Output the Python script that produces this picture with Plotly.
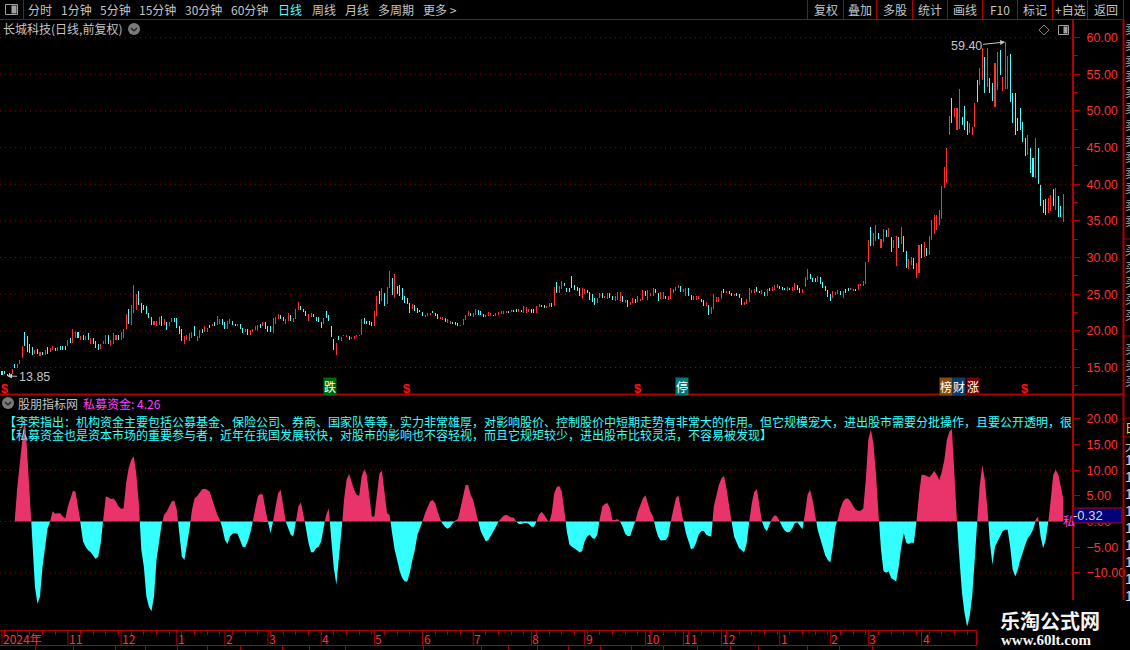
import plotly.graph_objects as go

# ---------- data ----------
price_high = [
14.5,14.5,14.1,14.2,14.77,15.45,15.45,16.0,17.9,19.9,
19.25,18.25,17.8,17.45,17.5,17.05,17.1,17.45,17.8,17.6,
17.9,17.6,17.75,18.0,17.95,17.9,18.8,19.05,20.3,19.8,
19.8,19.3,19.5,19.3,19.65,19.0,19.0,18.55,18.25,18.25,
18.6,19.5,19.5,18.8,19.7,19.5,19.4,19.8,20.25,22.3,
23.05,23.55,26.25,25.0,25.45,23.85,23.55,23.4,22.4,21.85,
21.3,21.4,21.95,22.05,21.55,21.25,21.25,21.7,21.75,21.7,
20.6,20.2,19.25,19.5,19.7,19.9,20.6,19.25,20.05,20.2,
20.6,20.45,20.85,21.0,21.15,22.05,21.55,21.65,21.15,21.4,
21.65,21.4,21.0,21.0,21.0,20.45,20.2,20.3,20.05,20.3,
20.6,20.85,21.0,21.15,21.15,20.6,20.6,21.8,21.95,22.35,
22.2,21.95,21.55,22.5,22.2,21.8,23.0,23.95,23.4,23.0,
22.75,22.35,22.5,22.35,21.95,21.95,21.25,21.8,22.75,22.2,
20.6,18.95,18.4,19.35,19.1,19.5,19.5,19.35,19.1,19.35,
19.5,19.5,21.65,21.8,21.4,21.4,21.25,22.75,24.75,25.45,
25.9,25.2,26.05,28.15,27.25,27.7,26.15,26.25,25.9,24.75,
24.55,23.85,23.65,23.5,23.1,22.9,22.6,22.2,22.5,22.5,
22.75,22.5,22.3,21.95,21.85,21.7,21.55,21.4,21.25,21.25,
21.05,20.85,21.6,22.15,22.75,22.5,22.5,23.0,22.85,22.65,
22.3,22.2,22.6,22.5,22.2,22.5,22.6,22.75,22.75,22.75,
22.75,22.85,22.9,22.95,23.0,22.9,23.4,23.3,23.05,23.0,
23.05,23.4,23.6,23.55,23.55,23.4,23.8,23.75,26.0,26.65,
26.15,26.8,26.5,25.8,25.8,27.45,26.25,26.0,25.9,25.8,
25.75,25.55,25.3,25.0,24.55,24.55,25.2,25.1,24.75,25.1,
25.15,24.7,24.7,25.3,25.3,24.7,24.2,24.2,24.0,24.55,
24.4,24.8,24.3,25.6,25.45,25.6,25.2,25.9,25.7,25.2,
25.25,25.25,24.75,24.7,25.9,25.75,26.05,26.25,26.15,25.65,
25.8,25.9,24.85,24.7,24.7,24.75,24.3,24.2,24.0,23.55,
23.2,25.0,24.65,24.65,25.45,25.7,25.45,25.45,25.2,25.0,
25.2,25.0,24.55,24.0,24.4,25.8,25.55,25.75,26.0,25.45,
25.55,25.3,25.7,25.9,26.0,26.25,26.35,26.15,26.0,25.9,
26.0,25.8,26.0,26.55,26.25,25.9,25.7,27.35,28.45,27.7,
27.25,27.25,27.5,27.35,26.6,26.15,25.55,25.0,25.45,25.25,
25.6,25.45,25.45,25.7,25.8,25.8,25.75,25.75,26.35,26.45,
26.8,29.4,32.45,34.15,33.3,34.4,33.35,32.6,33.9,33.8,
34.05,32.8,32.45,32.9,32.8,34.15,32.9,30.9,29.75,30.05,
30.0,29.25,31.7,31.9,32.1,31.25,32.9,35.1,35.75,35.85,
36.45,39.7,42.4,44.95,49.35,51.8,50.45,50.45,52.95,49.2,
50.7,48.6,48.3,47.85,51.15,54.2,55.85,58.6,57.35,58.6,
54.5,53.75,56.55,58.1,58.35,54.65,59.4,57.45,57.8,52.5,
52.5,49.0,50.45,48.45,46.25,46.7,44.9,43.55,46.35,45.0,
39.95,37.9,38.0,38.1,38.6,39.4,39.5,38.35,37.1,38.7,
]
price_low = [
14.0,14.05,13.85,13.95,14.05,14.9,14.9,15.45,16.35,17.9,
17.05,17.0,16.65,16.8,16.9,16.55,16.65,16.65,16.9,17.05,
17.35,17.2,17.2,17.45,17.45,17.35,17.9,18.35,18.4,19.05,
19.05,18.7,18.8,18.8,18.7,18.25,18.15,17.6,17.35,17.55,
18.25,18.25,18.25,18.0,18.15,18.8,18.8,18.8,19.05,20.25,
20.95,20.85,22.45,22.85,23.55,22.5,22.85,22.3,21.7,20.8,
20.8,20.7,20.85,20.7,20.8,20.05,20.6,21.15,21.15,20.4,
19.6,18.55,18.15,18.8,18.55,19.05,19.25,18.55,19.05,19.75,
19.8,19.85,20.45,20.6,20.6,20.85,20.95,20.85,20.2,20.2,
20.95,20.85,20.7,20.7,20.3,19.65,19.8,19.5,19.5,19.8,
20.05,20.0,20.45,20.6,20.3,19.8,19.8,19.65,21.0,21.65,
21.65,21.4,21.0,21.4,21.4,21.25,21.65,22.9,22.9,22.6,
22.05,21.4,21.95,21.95,21.4,21.25,20.45,21.0,21.8,21.4,
19.1,17.35,16.65,18.7,18.55,19.25,19.1,18.7,18.85,18.95,
19.1,19.25,19.5,21.0,21.0,20.85,20.7,20.7,22.05,23.7,
24.1,23.4,23.65,25.9,24.9,24.55,25.0,24.75,24.2,23.85,
23.65,22.5,22.95,22.75,22.5,22.6,22.05,21.85,22.05,22.2,
22.4,22.05,21.6,21.55,21.5,21.15,21.05,20.95,20.95,20.75,
20.7,20.6,20.85,21.5,22.05,22.05,21.95,22.2,22.2,22.2,
21.95,21.85,22.05,22.0,22.0,22.05,22.2,22.3,22.3,22.45,
22.5,22.55,22.6,22.6,22.55,22.6,22.5,22.5,22.6,22.5,
22.45,22.45,23.2,23.3,23.1,23.15,23.3,23.3,23.4,25.2,
25.2,25.7,26.15,25.35,25.35,25.9,25.55,25.45,24.75,24.4,
25.0,25.2,24.2,24.0,23.55,23.85,24.55,24.45,24.45,24.3,
24.55,24.2,24.1,24.2,24.1,24.0,23.85,23.2,23.55,23.85,
23.85,24.0,24.1,24.25,24.75,24.25,24.75,24.7,25.2,24.1,
24.3,24.3,24.3,24.2,24.35,25.2,25.45,25.8,25.35,25.35,
24.75,24.75,24.25,24.25,24.25,24.3,24.0,23.4,23.4,22.1,
22.3,23.0,24.0,24.0,24.3,25.2,25.1,25.0,24.7,24.7,
24.7,24.45,23.5,23.55,23.65,24.0,25.15,25.2,25.35,25.1,
25.0,24.75,24.7,25.45,25.45,25.55,25.8,25.7,25.55,25.55,
25.45,25.55,25.45,25.55,25.55,25.1,25.1,26.0,26.9,27.05,
26.7,26.7,26.65,26.35,25.8,25.45,24.65,24.1,24.55,24.9,
25.0,24.9,24.55,25.2,25.45,25.55,25.45,25.45,25.6,26.1,
26.15,26.45,29.35,31.55,31.55,32.25,32.6,31.25,32.15,32.85,
32.8,30.8,31.35,28.85,31.25,31.9,30.8,28.55,28.5,29.0,
28.4,27.15,27.95,30.0,30.05,30.2,30.35,32.45,33.15,33.8,
34.5,35.25,39.5,40.15,46.7,48.3,49.2,47.4,47.6,48.05,
47.4,46.7,46.95,46.7,47.85,51.25,53.6,54.2,52.45,53.3,
52.4,51.35,50.55,52.85,54.85,52.7,52.95,52.95,51.25,48.3,
46.7,47.2,47.4,45.8,43.8,44.0,41.5,41.05,40.85,40.0,
37.0,36.1,35.75,36.1,36.4,37.0,36.55,35.55,35.5,34.85,
]
# 1 = up day (red), 0 = down day (cyan)
price_up = [
0,0,0,0,1,0,1,1,1,0,
0,0,0,1,0,1,0,1,0,1,
1,0,1,0,0,0,1,0,1,1,
0,1,0,1,0,1,0,0,0,1,
1,1,0,1,1,1,0,1,1,1,
0,1,1,1,0,0,0,0,0,0,
1,1,1,0,1,0,1,1,0,0,
0,0,1,1,1,1,0,1,1,0,
1,1,0,1,0,1,1,0,0,1,
1,0,0,1,0,0,1,0,1,1,
1,1,0,1,0,0,0,1,1,1,
0,0,1,1,0,1,1,1,0,0,
0,1,1,0,0,0,0,1,0,0,
0,0,1,0,1,1,1,0,1,1,
1,1,1,0,0,0,0,1,1,0,
1,0,1,1,0,1,0,0,0,0,
0,0,1,0,0,0,0,1,1,1,
0,0,0,1,1,0,1,1,0,0,
0,1,1,1,1,0,1,1,0,0,
0,1,1,1,0,1,1,1,1,1,
0,1,0,0,1,0,1,1,1,0,
0,1,1,0,0,1,1,0,1,0,
1,1,0,0,0,0,0,0,0,1,
1,0,0,0,0,1,1,0,1,1,
0,0,1,1,1,0,1,0,1,1,
0,1,1,1,0,1,1,1,0,0,
1,1,0,1,1,1,1,1,0,1,
1,0,0,1,1,1,0,0,1,0,
1,1,1,1,1,0,1,0,0,1,
0,0,0,1,1,1,1,1,0,0,
1,0,1,0,1,1,1,0,0,0,
1,0,1,1,0,0,1,1,1,0,
0,0,1,0,0,0,0,0,1,1,
1,0,1,0,0,1,1,0,1,1,
1,1,1,0,1,1,0,1,1,0,
1,0,1,1,0,1,0,0,1,1,
0,1,1,0,1,0,1,1,1,1,
1,1,1,1,1,0,1,1,1,0,
0,0,1,1,1,0,1,1,0,1,
0,0,1,1,0,1,1,1,0,0,
0,0,0,0,0,1,0,0,1,0,
0,0,0,1,1,0,1,0,0,1,
]

fund_values = [
0,0,0,0,0,0,6.5,11,16,20.5,
13,5,-4,-12.7,-16,-14.6,-8.8,-4.9,-1.3,0,
2.0,1.5,1.6,1.6,1.0,0.6,2.9,4.5,6,5.8,
2.9,-0.5,-3.9,-4.9,-5.6,-6,-6.7,-7.3,-6.8,-4.2,
0.6,4.9,4.7,4.4,4.5,3.9,2.9,2.5,2.6,7.5,
10.4,12,12.7,9.4,3.6,-5.5,-8.8,-14.6,-16.6,-17.5,
-14.6,-7.5,-3.6,-0.6,1.3,1.9,2.9,3.9,4.1,2.3,
-2.3,-6.8,-7.5,-4.9,-1.6,2.3,4.5,4.9,5.5,6.3,
6.4,6.2,5.8,4.2,2.6,1.3,0.3,-1.3,-3.6,-4.4,
-2.9,-2.4,-2.3,-2.4,-3.6,-4.9,-5,-3.9,-2.3,0,
2.6,4.9,5.4,5.2,2.3,-0.1,-2.3,0,2.9,5.5,
6.2,2.9,0,-1.3,-2.6,-2.9,0,2.9,3.7,1.3,
-1.3,-4.2,-6,-6,-5.2,-4.9,-3.9,-1,1.3,2.6,
-3.6,-9.1,-12.3,-7.5,-2.3,4.2,8.1,9.3,7.5,6.2,
5.2,5,8.8,10.2,9.1,4.9,1,1,5.5,9.4,
9.9,5.5,1.6,1.3,-2.3,-5.5,-7.5,-9.7,-11,-11.7,
-11.7,-10,-7.5,-5.5,-2.6,-1.3,0,1.6,2.9,3.9,
4.2,3.6,1.9,0.3,-0.5,-1.1,-1.4,-1,-0.3,0.2,
0.5,2.6,4.9,7.1,7.1,5.2,4.2,2.3,0,-1.9,
-2.9,-3.9,-3.6,-2.6,-1.9,-1,0,0.6,1.1,1.3,
1,0.8,0.8,0,-0.5,-0.5,-0.3,-0.3,-0.5,-1,
-1,0,1.3,1.9,1.3,0.5,-0.2,1.6,5.5,6.7,
6.9,5.8,2.3,-2,-4.5,-4.9,-5.2,-5.6,-6,-5.8,
-3.9,-2.9,-2.6,-3.2,-3.4,-2.6,0.6,2.9,3.4,3.6,
2.6,0.3,0.3,0.5,0,-1,-2.4,-2.8,-2.8,-1.3,
0,1.9,3.2,4.5,5.1,3.6,1.9,1,-1.3,-2.9,
-3.7,-3.7,-3.6,-2.9,0,2.3,4.5,5.1,2.3,0,
-2.3,-3.9,-5.4,-5.2,-4.2,-2.6,-1.9,-1.8,-2.6,-2.8,
-2.9,2.9,5.2,7.1,8.4,8.9,6.5,2.9,0,-2.9,
-4.2,-5.2,-5.6,-6,-4.2,0,3.6,5.8,6.3,2.9,
0,-1.3,-1.9,-0.6,0.6,1.2,1,0,-1,-1.8,
-2.1,-2,-1.3,-0.3,-0.2,-0.8,-1.5,1.6,5.2,6.2,
4.2,1.3,-1.6,-3.2,-5.2,-6.6,-7.5,-8,-4.9,-1,
0.6,2.6,3.9,4.5,4.5,3.9,3,2.3,2.1,2.1,
2.6,8.1,15.9,17.9,15.3,9.4,1.6,-5.5,-9.7,-10,
-9.7,-11,-11.4,-11.7,-8.8,-4.9,-2.3,-4.2,-4.4,-4.1,
-4.2,0,5.2,9.1,9.1,8.8,8.6,9.1,9.9,9.1,
8.1,9.7,12,15.9,17.5,18,10,0,-7.5,-14,
-17.9,-20.5,-18.5,-14.6,-7.5,0.3,7.1,11,8.1,2.6,
-4.2,-8.4,-4.9,-3.9,-2.6,-1.9,-1.6,-1.6,-4.9,-9.4,
-10.7,-9.4,-7.5,-5.8,-4.5,-3.2,-2.6,-1.6,0.3,1,
-2.9,-5.2,-3.6,-0.3,4.2,9.1,10.1,9.1,6.8,4.26,
]

month_labels = ["2024年","11","12","1","2","3","4","5","6","7","8","9","10","11","12","1","2","3","4"]
month_start_bar = [0,26,47,69,88,105,126,147,166,186,209,230,254,269,284,307,327,342,363]
price_ticks = [15,20,25,30,35,40,45,50,55,60]
fund_ticks = [-10,-5,0,5,10,15,20]
fund_grid = [-10,0,10]
signal_bars = [1,160,251,404]
tag_text = ["跌","停","榜","财","涨"]
tag_bar = [129.3,268.6,372.5,377.6,383.5]
menu_left = ["分时","1分钟","5分钟","15分钟","30分钟","60分钟","日线","周线","月线","多周期","更多 >"]
menu_right = ["复权","叠加","多股","统计","画线","F10","标记","+自选","返回"]
line_one = "【李荣指出：机构资金主要包括公募基金、保险公司、券商、国家队等等，实力非常雄厚，对影响股价、控制股价中短期走势有非常大的作用。但它规模宠大，进出股市需要分批操作，且要公开透明，很"
line_two = "【私募资金也是资本市场的重要参与者，近年在我国发展较快，对股市的影响也不容轻视，而且它规矩较少，进出股市比较灵活，不容易被发现】"

assert len(price_high) == len(price_low) == len(price_up) == len(fund_values) == 420, (len(price_high), len(price_low), len(price_up), len(fund_values))

# ---------- helpers ----------
W, H = 1130, 650
RED = "#ff3232"; AX = "#b00000"; CY = "#54fcfc"; PINK = "#e8336b"; GR = "#c4c4c4"
CJK = "Noto Sans CJK SC, Liberation Sans, sans-serif"
NUM = "Liberation Sans, sans-serif"
px = lambda v: v / W
py = lambda v: 1 - v / H
shapes, notes = [], []

def txt(x, y, s, color=GR, size=12, anchor="left", font=CJK, **kw):
    # annotation boxes pad their text by about two pixels on the left
    lx = x - 2 if anchor == "left" else x
    notes.append(dict(x=px(lx), y=py(y), xref="paper", yref="paper", text=s, showarrow=False,
                      xanchor=anchor, yanchor="middle", font=dict(color=color, size=size, family=font), **kw))

def seg(x0, y0, x1, y1, color=AX, width=1, **kw):
    shapes.append(dict(type="line", xref="paper", yref="paper", x0=px(x0), y0=py(y0), x1=px(x1), y1=py(y1),
                       line=dict(color=color, width=width), **kw))

def box(x0, y0, x1, y1, fill, line=None, lw=1, layer="above"):
    shapes.append(dict(type="rect", xref="paper", yref="paper", x0=px(x0), y0=py(y0), x1=px(x1), y1=py(y1),
                       fillcolor=fill, line=dict(color=line or fill, width=lw if line else 0), layer=layer))

def icon(cx, cy):
    shapes.append(dict(type="circle", xref="paper", yref="paper", x0=px(cx-6), y0=py(cy-6), x1=px(cx+6), y1=py(cy+6),
                       fillcolor="#7a7a7a", line=dict(width=0), layer="above"))
    seg(cx-3, cy-1, cx, cy+2, "#222222", 1.4); seg(cx, cy+2, cx+3, cy-1, "#222222", 1.4)

# ---------- traces ----------
fig = go.Figure()
up = [i for i, f in enumerate(price_up) if f == 1]
dn = [i for i, f in enumerate(price_up) if f == 0]
# a colour alpha just under 1 makes plotly round each bar to whole pixels, giving one-pixel strokes
for idx, col in ((up, "rgba(255,50,50,0.995)"), (dn, "rgba(84,252,252,0.995)")):
    fig.add_trace(go.Bar(x=idx, y=[price_high[i] - price_low[i] for i in idx], base=[price_low[i] for i in idx],
                         width=0.4, marker=dict(color=col, line=dict(width=0)), xaxis="x2", yaxis="y",
                         hoverinfo="skip", showlegend=False))

# split indicator at its zero crossings so both fills meet on the zero line
fx, fy = [], []
for i, v in enumerate(fund_values):
    if i and fund_values[i-1] * v < 0:
        fx.append(i - 1 + fund_values[i-1] / (fund_values[i-1] - v)); fy.append(0)
    fx.append(i); fy.append(v)
fig.add_trace(go.Scatter(x=fx, y=[max(v, 0) for v in fy], mode="lines", fill="tozeroy", fillcolor=PINK,
                         line=dict(width=0, color=PINK), xaxis="x", yaxis="y2", hoverinfo="skip", showlegend=False))
fig.add_trace(go.Scatter(x=fx, y=[min(v, 0) for v in fy], mode="lines", fill="tozeroy", fillcolor="#33ffff",
                         line=dict(width=0, color="#33ffff"), xaxis="x", yaxis="y2", hoverinfo="skip", showlegend=False))

# ---------- grids ----------
DOT = "1px,4px"
for p in price_ticks:
    shapes.append(dict(type="line", xref="paper", x0=0, x1=px(1072), yref="y", y0=p, y1=p,
                       line=dict(color="#a00000", width=1, dash=DOT), layer="below"))
for p in fund_grid:
    shapes.append(dict(type="line", xref="paper", x0=0, x1=px(1072), yref="y2", y0=p, y1=p,
                       line=dict(color="#a00000", width=1, dash=DOT), layer="below"))

# ---------- toolbar ----------
seg(0, 19.5, 1123, 19.5); seg(23.5, 0, 23.5, 19.5)
box(5.5, 4.5, 17.5, 14.5, "#000000", "#a0a0a0"); box(11.5, 5.5, 16.5, 13.5, "#a0a0a0")
for s, x in zip(menu_left, [28, 61, 100, 139, 185, 231, 278, 312, 345, 378, 423]):
    txt(x, 9.5, s, "#54fcfc" if s == "日线" else GR)
edges = [807, 843, 876, 912, 947, 982, 1017, 1052, 1087, 1123]
for e in edges:
    seg(e + .5, 0, e + .5, 19.5)
for s, a, b in zip(menu_right, edges[:-1], edges[1:]):
    txt((a + b) / 2 + .5, 9.5, s, GR, anchor="center")

# ---------- titles and side furniture ----------
txt(3, 29, "长城科技(日线,前复权)", GR); icon(134, 29)
shapes.append(dict(type="path", xref="paper", yref="paper",
                   path=f"M {px(1039)} {py(30)} L {px(1044)} {py(25)} L {px(1049)} {py(30)} L {px(1044)} {py(35)} Z",
                   line=dict(color="#808080", width=1), layer="above"))
box(1058.5, 25.5, 1068.5, 34.5, "#000000", "#a0a0a0"); box(1063.5, 26.5, 1067.5, 33.5, "#a0a0a0")
icon(8, 403)
txt(18, 403, "股朋指标网", GR); txt(83, 403, "私募资金: 4.26", "#ff40ff")
txt(4, 421.5, line_one, "#33ffff"); txt(4, 434.5, line_two, "#33ffff")
txt(1063, 520, "私", "#ff40ff")

# price labels on the chart
notes.append(dict(x=396, y=59.4, xref="x2", yref="y", text="59.40", ax=-39, ay=4, showarrow=True, arrowhead=2,
                  arrowsize=1, arrowwidth=1, arrowcolor=GR, font=dict(color=GR, size=12.5, family=NUM)))
notes.append(dict(x=2, y=13.85, xref="x2", yref="y", text="13.85", ax=27, ay=1, showarrow=True, arrowhead=2,
                  arrowsize=1, arrowwidth=1, arrowcolor=GR, font=dict(color=GR, size=12.5, family=NUM)))
for b in signal_bars:
    notes.append(dict(x=b, y=py(388), xref="x2", yref="paper", text="<b>$</b>", showarrow=False, yanchor="middle",
                      font=dict(color="#ff1010", size=13, family=NUM)))
for s, b, c in zip(tag_text, tag_bar, ["#006a00", "#007a7a", "#8a4a0a", "#0a3c70", "#7a0000"]):
    notes.append(dict(x=b, y=py(386.5), xref="x2", yref="paper", text=s, showarrow=False, yanchor="middle",
                      bgcolor=c, borderpad=0, font=dict(color="#ffffff", size=12, family=CJK)))

# panel rules
seg(0, 394.5, 1123, 394.5, AX, 2)
seg(1123.5, 19.5, 1123.5, 600, AX, 2)
for y in (45, 239, 336, 418, 437):
    seg(1123, y, 1130, y)
for y in range(28, 232, 16):
    txt(1125, y, "卖", "#a8a8a8")
for y in range(250, 330, 16):
    txt(1125, y, "买", "#a8a8a8")
for y in range(348, 392, 16):
    txt(1125, y, "买", "#a8a8a8")
txt(1125, 427, "日", "#e0e040"); txt(1125, 445, "大", "#c0c0c0")
for y in range(460, 600, 17):
    txt(1125, y, "1", "#d8d8d8", font=NUM, size=14)

# crosshair value box
box(1073, 508, 1122, 523, "#00007a", "#c00000")
txt(1073, 515.5, "-0.32", "#d8d8d8", size=13, font=NUM)

# month strip
seg(0, 630.5, 977, 630.5); seg(0, 645.5, 977, 645.5)
seg(976.5, 630, 976.5, 646)
for s, b in zip(month_labels, month_start_bar):
    shapes.append(dict(type="line", xref="x", x0=b, x1=b, yref="paper", y0=py(630), y1=py(646),
                       line=dict(color=AX, width=1), layer="above"))
    notes.append(dict(x=b, y=py(638), xref="x", yref="paper", text=s, showarrow=False, xanchor="left", xshift=-1,
                      yanchor="middle", font=dict(color=RED, size=12, family=CJK)))
for x in (35, 73, 115, 145, 177, 207, 240, 282, 309, 345, 423, 481, 508, 537, 568, 600, 631, 663, 697, 730, 758, 807, 839, 872):
    seg(x + .5, 646, x + .5, 650)

# watermark block
box(977, 600, 1130, 650, "#000000")
txt(1050, 620, "<b>乐淘公式网</b>", "#f4f4f4", 20, "center", "Noto Sans CJK SC")
txt(1046, 640, "<b>www.60lt.com</b>", "#f4f4f4", 15, "center", "Liberation Serif")

axis_font = dict(color=RED, size=12.5, family=NUM)
fig.update_layout(
    width=W, height=H, autosize=False, margin=dict(l=0, r=0, t=0, b=0),
    paper_bgcolor="#000000", plot_bgcolor="#000000", barmode="overlay", bargap=0, showlegend=False,
    shapes=shapes, annotations=notes,
    xaxis=dict(domain=[0, px(1072)], range=[-0.79, 422.4], anchor="y2", showgrid=False, zeroline=False,
               showline=False, showticklabels=False, ticks="outside", ticklen=4, tickcolor=AX, tickwidth=1,
               tick0=1, dtick=5),
    xaxis2=dict(domain=[0, px(1072)], matches="x", anchor="y", visible=False),
    yaxis=dict(domain=[py(394), py(20)], range=[11.385, 62.41], side="right", anchor="x2", showgrid=False, zeroline=False,
               tickvals=price_ticks, tickformat=".2f", tickfont=axis_font, ticks="outside", ticklen=6, tickcolor=AX,
               ticklabelstandoff=4, showline=True, linecolor=AX, linewidth=2,
               minor=dict(dtick=2.5, ticks="outside", ticklen=4, tickcolor=AX)),
    yaxis2=dict(domain=[py(630), py(395)], range=[-21.13, 24.64], side="right", anchor="x", showgrid=False, zeroline=False,
                tickvals=fund_ticks, tickformat=".2f", tickfont=axis_font, ticks="outside", ticklen=6, tickcolor=AX,
                ticklabelstandoff=4, showline=True, linecolor=AX, linewidth=2),
)
fig.write_html("out.html", config=dict(displayModeBar=False),
               post_script="document.body.style.margin='0';document.body.style.background='#000';document.body.style.overflow='hidden';")
